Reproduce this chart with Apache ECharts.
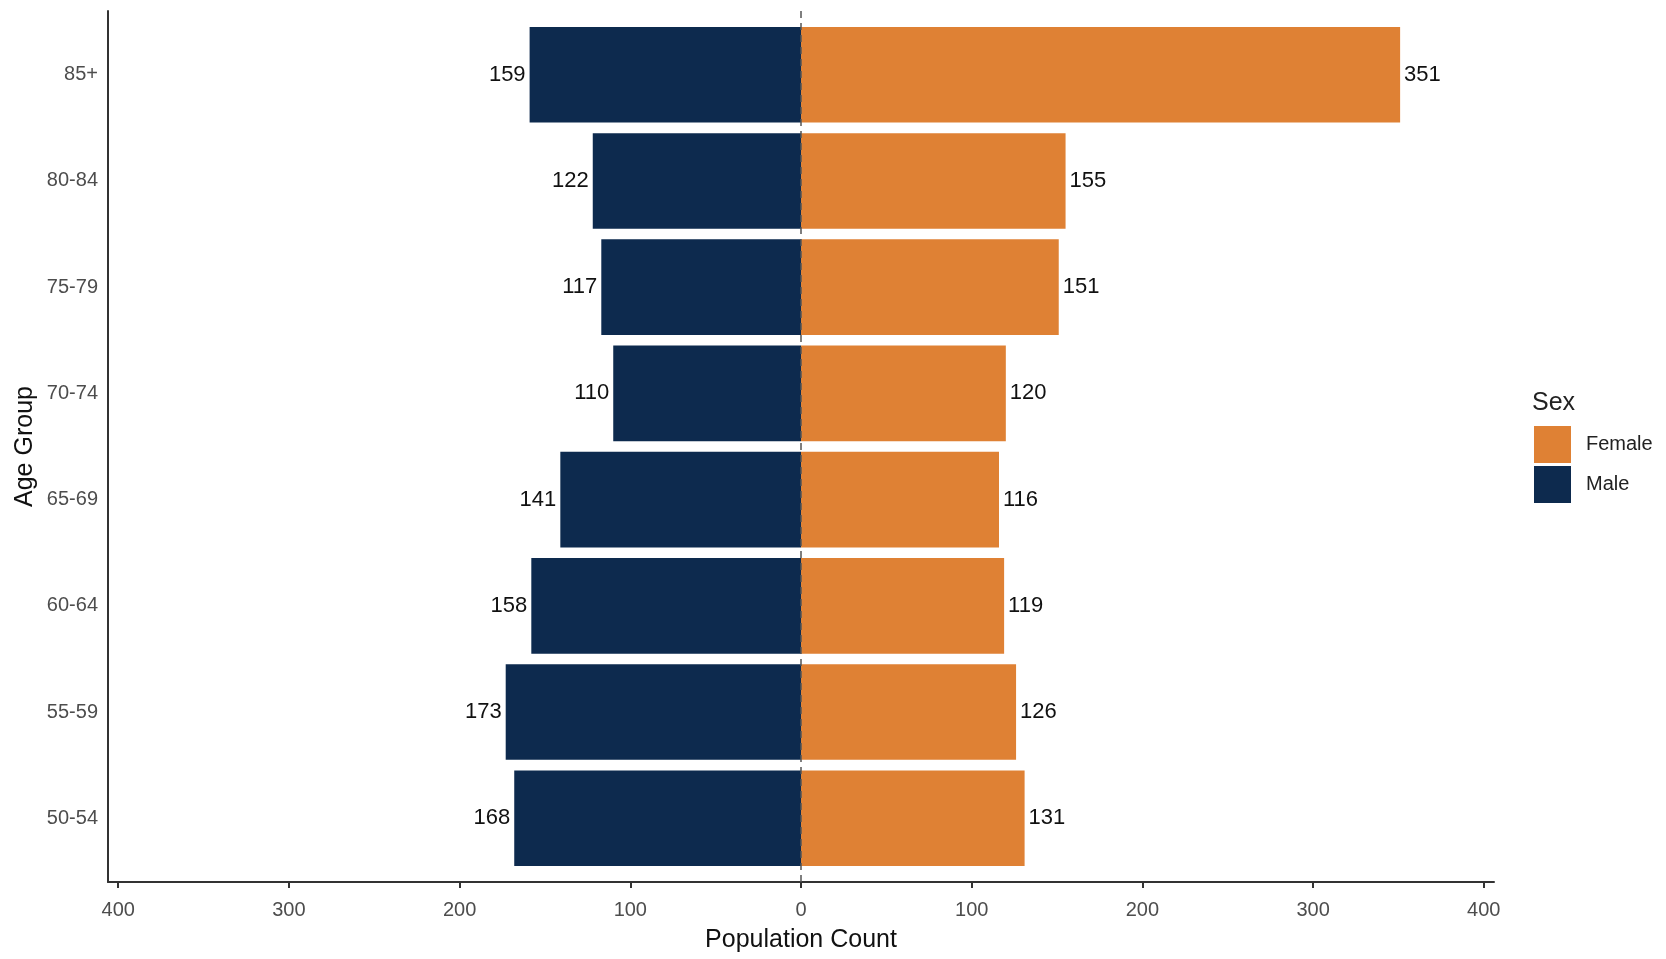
<!DOCTYPE html>
<html>
<head>
<meta charset="utf-8">
<script src="https://cdn.jsdelivr.net/npm/echarts@6/dist/echarts.min.js"></script>
<style>html,body{margin:0;padding:0;background:#fff}#c{width:1666px;height:959px}</style>
</head>
<body>
<div id="c"></div>
<script>
const categories = ['50-54','55-59','60-64','65-69','70-74','75-79','80-84','85+'];
const maleValues = [168,173,158,141,110,117,122,159];
const femaleValues = [131,126,119,116,120,151,155,351];
const xTicks = [-400,-300,-200,-100,0,100,200,300,400];
const legendItems = ['Female','Male'];

const FONT = '"Liberation Sans", Arial, sans-serif';
const navy = '#0d2a4e';
const orange = '#df8134';
const axisCol = '#333333';
const tickTextCol = '#4d4d4d';

const chart = echarts.init(document.getElementById('c'));
chart.setOption({
  backgroundColor: '#fff',
  animation: false,
  textStyle: { fontFamily: FONT },
  title: {
    text: 'Sex', left: 1527, top: 386,
    textStyle: { fontFamily: FONT, fontSize: 25, fontWeight: 'normal', color: '#222' }
  },
  legend: {
    data: legendItems, orient: 'vertical', left: 1529, top: 421,
    itemWidth: 37, itemHeight: 37, itemGap: 3, icon: 'rect',
    textStyle: { fontFamily: FONT, fontSize: 20, color: '#222', padding: [0,0,0,10] },
    selectedMode: false
  },
  grid: [
    { left: 108, right: 172, top: 21.6, bottom: 87.6, containLabel: false },
    { left: 108, right: 172, top: 11, bottom: 77, containLabel: false }
  ],
  xAxis: [
    { type: 'value', gridIndex: 0, min: -406, max: 406, show: false },
    { type: 'value', gridIndex: 1, min: -406, max: 406,
      axisLine: { show: true, onZero: false, lineStyle: { color: axisCol, width: 2 } },
      axisTick: { show: true, length: 6, customValues: xTicks, lineStyle: { color: axisCol, width: 2 } },
      axisLabel: { customValues: xTicks, formatter: v => Math.abs(v), fontSize: 20, color: tickTextCol, margin: 18, fontFamily: FONT },
      splitLine: { show: false },
      name: 'Population Count', nameLocation: 'middle', nameGap: 46,
      nameTextStyle: { fontSize: 25, color: '#111', fontFamily: FONT }
    }
  ],
  yAxis: [
    { type: 'category', gridIndex: 0, data: categories,
      axisLine: { show: false }, axisTick: { show: false },
      axisLabel: { fontSize: 20, color: tickTextCol, margin: 10, fontFamily: FONT, padding: [8,0,0,0] }
    },
    { type: 'value', gridIndex: 1, min: 0, max: 1,
      axisLine: { show: true, onZero: false, lineStyle: { color: axisCol, width: 2 } },
      axisTick: { show: false }, axisLabel: { show: false }, splitLine: { show: false },
      name: 'Age Group', nameLocation: 'middle', nameGap: 70, nameRotate: 90,
      nameTextStyle: { fontSize: 25, color: '#111', fontFamily: FONT }
    }
  ],
  series: [
    { name: 'Female', type: 'bar', xAxisIndex: 0, yAxisIndex: 0, stack: 'pop',
      barCategoryGap: '10%', itemStyle: { color: orange },
      data: femaleValues,
      label: { show: true, position: 'right', distance: 4, fontSize: 22, color: '#111', fontFamily: FONT, padding: [8,0,0,0] }
    },
    { name: 'Male', type: 'bar', xAxisIndex: 0, yAxisIndex: 0, stack: 'pop',
      barCategoryGap: '10%', itemStyle: { color: navy },
      data: maleValues.map(v => -v),
      label: { show: true, position: 'left', distance: 4, fontSize: 22, color: '#111', fontFamily: FONT, padding: [8,0,0,0],
        formatter: p => Math.abs(p.value) }
    },
    { name: 'zero', type: 'line', xAxisIndex: 1, yAxisIndex: 1, data: [], z: 10,
      markLine: { silent: true, symbol: 'none', label: { show: false },
        lineStyle: { color: '#555', width: 1.5, type: [7, 5] },
        data: [{ xAxis: 0 }] }
    }
  ]
});
</script>
</body>
</html>
